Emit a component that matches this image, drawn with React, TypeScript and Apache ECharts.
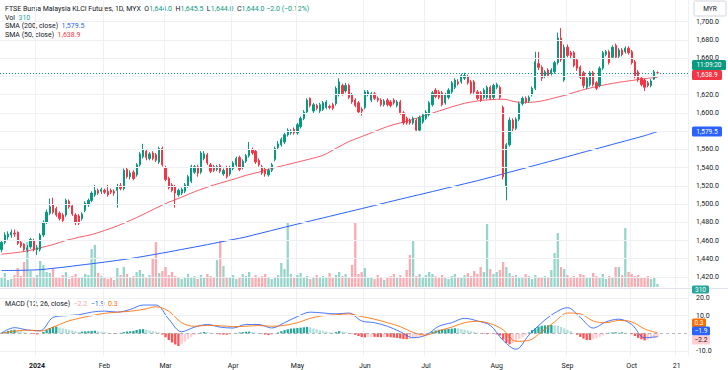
import React, { useEffect, useRef } from 'react';
import * as echarts from 'echarts';

// ---------- calendar ----------
const HOLIDAYS = ['2023-12-25','2024-01-01','2024-01-25','2024-02-01','2024-02-12','2024-04-10','2024-04-11','2024-05-01','2024-05-22','2024-06-17','2024-07-08','2024-09-16'];
const FIRST_DAY = [2023, 11, 14];
const LAST_DAY = [2024, 9, 24];
const MONTHS = ['2024','Feb','Mar','Apr','May','Jun','Jul','Aug','Sep','Oct','Nov','Dec'];

// ---------- price (one entry per bar) ----------
const OPEN = [
1450,1458,1464,1466,1468,1469,1458,1456,1450,1453,
1460,1450,1450,1466,1480,1490,1499,1495,1490,1488,
1488,1503,1498,1488,1487,1484,1493,1499,1504,1510,
1515,1514,1515,1514,1515,1514,1515,1520,1517,1538,
1530,1535,1532,1543,1552,1558,1550,1556,1554,1546,
1561,1540,1528,1521,1519,1510,1512,1514,1520,1525,
1535,1541,1535,1550,1554,1543,1541,1538,1542,1533,
1540,1533,1539,1543,1551,1540,1547,1553,1560,1558,
1548,1541,1538,1532,1537,1549,1562,1565,1568,1576,
1578,1582,1578,1585,1594,1601,1616,1602,1608,1602,
1604,1606,1607,1609,1610,1620,1630,1624,1630,1620,
1614,1611,1604,1606,1620,1614,1621,1616,1614,1609,
1614,1612,1614,1608,1612,1600,1594,1592,1589,1592,
1581,1590,1594,1598,1609,1625,1623,1622,1611,1617,
1623,1628,1634,1634,1638,1640,1634,1634,1623,1622,
1617,1617,1628,1617,1628,1628,1606,1519,1565,1592,
1583,1593,1610,1616,1613,1620,1627,1654,1650,1640,
1647,1643,1645,1655,1682,1636,1672,1666,1666,1658,
1650,1644,1628,1631,1644,1633,1630,1649,1664,1667,
1661,1674,1662,1669,1667,1671,1667,1656,1645,1638,
1636,1633,1630,1637,1644];
const CLOSE = [
1458,1466,1467,1469,1467,1457,1454,1450,1452,1461,
1450,1452,1466,1480,1491,1497,1491,1488,1484,1482,
1504,1497,1489,1480,1479,1489,1501,1504,1512,1515,
1512,1516,1513,1510,1513,1512,1519,1517,1537,1530,
1534,1528,1543,1555,1560,1551,1555,1550,1548,1561,
1543,1527,1518,1515,1512,1515,1516,1521,1530,1541,
1541,1534,1556,1555,1545,1536,1537,1541,1536,1537,
1530,1540,1545,1550,1538,1547,1553,1560,1556,1546,
1543,1534,1533,1537,1543,1561,1566,1571,1576,1581,
1580,1578,1587,1594,1601,1614,1608,1609,1605,1609,
1611,1612,1606,1605,1627,1634,1621,1630,1617,1612,
1608,1601,1602,1623,1623,1621,1616,1614,1609,1613,
1609,1608,1611,1612,1600,1589,1589,1589,1594,1581,
1595,1598,1601,1611,1622,1618,1617,1609,1620,1625,
1633,1636,1632,1641,1641,1633,1622,1623,1616,1614,
1625,1628,1616,1630,1631,1617,1530,1565,1592,1583,
1593,1610,1616,1612,1617,1627,1656,1650,1638,1645,
1641,1647,1655,1682,1658,1672,1663,1663,1652,1649,
1639,1630,1638,1644,1631,1627,1649,1666,1667,1655,
1672,1661,1669,1664,1671,1666,1655,1640,1636,1631,
1628,1630,1635,1645,1644];
const HIGH = [
1460,1469,1470,1472,1472,1470,1460,1457,1455,1463,
1462,1455,1468,1482,1494,1506,1507,1497,1492,1490,
1506,1505,1500,1490,1489,1491,1503,1506,1514,1521,
1517,1518,1517,1521,1517,1516,1522,1523,1539,1540,
1537,1537,1545,1557,1566,1560,1557,1558,1556,1563,
1563,1542,1530,1523,1521,1517,1518,1523,1532,1543,
1543,1543,1558,1558,1556,1545,1543,1543,1544,1539,
1542,1542,1547,1552,1553,1549,1555,1568,1562,1560,
1550,1543,1540,1539,1545,1563,1569,1573,1578,1583,
1582,1584,1589,1596,1603,1616,1617,1611,1610,1611,
1613,1614,1609,1611,1629,1638,1632,1633,1632,1622,
1616,1613,1606,1625,1625,1623,1623,1618,1616,1615,
1616,1614,1616,1614,1614,1602,1596,1594,1596,1594,
1597,1600,1603,1613,1624,1627,1625,1624,1622,1627,
1635,1638,1637,1643,1644,1642,1636,1636,1625,1624,
1627,1630,1630,1632,1633,1630,1608,1567,1595,1594,
1595,1612,1618,1618,1619,1629,1667,1667,1652,1647,
1649,1649,1657,1688,1693,1675,1675,1668,1668,1660,
1652,1646,1640,1646,1646,1635,1651,1668,1669,1669,
1674,1676,1671,1671,1673,1673,1669,1658,1647,1640,
1638,1635,1637,1647,1645.5];
const LOW = [
1447,1456,1461,1463,1464,1455,1452,1448,1447,1451,
1448,1444,1448,1464,1478,1488,1489,1486,1482,1479,
1486,1495,1487,1477,1477,1482,1491,1497,1502,1508,
1510,1511,1511,1508,1511,1509,1496,1515,1515,1528,
1527,1526,1530,1541,1550,1548,1548,1548,1546,1544,
1541,1525,1516,1513,1496,1508,1510,1512,1518,1523,
1533,1530,1533,1548,1543,1534,1535,1536,1534,1531,
1528,1531,1537,1541,1536,1538,1545,1551,1554,1544,
1541,1532,1530,1530,1535,1547,1560,1563,1566,1574,
1576,1576,1576,1583,1592,1599,1606,1600,1603,1600,
1602,1604,1604,1603,1608,1618,1619,1622,1615,1610,
1606,1599,1597,1604,1618,1612,1614,1612,1607,1607,
1607,1606,1609,1606,1598,1587,1587,1587,1587,1579,
1579,1588,1592,1596,1607,1616,1615,1607,1609,1615,
1621,1626,1630,1632,1636,1631,1620,1621,1614,1612,
1615,1615,1614,1615,1626,1615,1527,1504,1563,1580,
1581,1591,1608,1610,1611,1618,1625,1647,1635,1638,
1639,1641,1643,1653,1656,1634,1661,1660,1650,1646,
1637,1627,1626,1629,1629,1625,1628,1647,1662,1653,
1659,1659,1660,1662,1665,1664,1653,1638,1634,1629,
1624,1628,1628,1636,1644];
const VOLUME = [
900,1400,700,800,1200,1900,1100,2500,4500,1600,
900,1200,2600,2200,1500,1400,1800,1000,900,1200,
1500,800,1100,1300,900,1000,1300,1200,3800,4200,
1400,1100,900,800,1000,700,1900,1200,2000,1300,
1000,1100,1500,1700,1300,1000,1200,2900,4500,1400,
1600,2000,1200,1500,1100,900,800,1000,1300,900,
1100,800,1200,1000,1300,1100,900,2700,4700,2100,
1000,900,1200,800,1000,1300,1100,1500,900,1200,
1000,1100,1300,900,800,1000,1200,2400,1800,6500,
1300,1000,1200,1400,900,1100,800,1000,1200,900,
1100,1000,1400,900,1200,1500,1100,1300,1000,2200,
6500,1300,1500,1900,1000,900,800,1200,1000,700,
900,1100,1300,1000,1200,1000,1700,3200,4600,1100,
1300,1000,1200,1500,1300,1100,900,1200,1000,800,
1100,1300,1000,900,1200,1400,1100,1600,1300,2000,
1500,6300,1800,1300,1500,1700,2500,2000,1400,1100,
1200,1000,900,1300,1100,800,1200,1000,900,1100,
1000,1700,3400,5400,2000,1800,1200,1000,1100,900,
1300,1200,1000,900,1400,1100,1000,1300,800,1100,
1000,2000,2000,1200,5900,1500,1300,1100,1200,1000,
900,1100,800,1000,310];

// ---------- indicators (read every 4th bar) ----------
const SMA_STEP = 4;
const SMA200 = [1427,1427.2,1427.5,1428,1429.5,1431,1432.8,1434.5,1436.3,1438.2,1440.2,1442.5,1445,1447.5,1450.2,1452.8,1455.5,1458.3,1461.1,1463.9,1467.5,1471,1474.5,1478,1481.4,1484.8,1488.2,1491.6,1495,1498.4,1501.9,1505.3,1508.7,1512,1515.4,1518.8,1522.2,1525.6,1529.3,1533,1536.8,1540.6,1544.4,1548.2,1552,1555.9,1559.7,1563.5,1567.3,1571.1,1575,1579.5];
const SMA50 = [1445,1446.5,1448.5,1452,1455.5,1460,1463.5,1466.5,1471,1476,1482,1488.5,1495.5,1502,1507.5,1513.5,1518.5,1523,1527,1531.5,1535,1539,1542.5,1546,1549.5,1553.5,1561,1568.5,1574,1579.5,1585,1589,1593,1597.5,1602,1606.5,1610.5,1613,1614.5,1615,1612,1611.5,1613,1616.5,1620,1624.5,1628,1631,1633.5,1635.5,1637.5,1638.9];
const MACD_LINE = [0.2,3.2,1.9,1.5,9,10,10.5,12,12.6,12,13.5,16,16,8,0.9,3.5,5,3.5,3,5,5,3,6,9.5,12,11.5,11,11.5,7,6,4,0.9,-2.5,-1,4,6,8.5,7,4.5,-4,-9,-1,6,11.5,14.5,9,3,6.5,8,5,-2.5,-1.9];
const SIGNAL_LINE = [0,1.2,1.8,1.3,3.5,6.5,8.5,10,11.3,12,12.5,13.5,15,12.5,6,4,4.5,4.3,3.8,4,4.4,4,4.5,6,8.5,10,10.5,11,9.5,8,6,3.8,0.5,-1,1.5,3.5,6,6.8,5.5,2,-4.5,-4,0.9,6.5,11.5,11,7,6,7.3,6.5,2.5,0.3];
const HIST = [
0.3,0.8,1.3,1.7,2.0,1.6,1.2,0.7,0.2,-0.2,
-0.4,-0.6,-0.2,0.8,2.0,3.0,3.7,3.8,3.3,2.8,
2.4,2.0,1.6,1.1,0.8,0.9,1.1,1.2,1.4,1.5,
1.1,0.9,0.6,0.3,-0.1,-0.3,0.1,0.3,0.7,1.0,
1.1,1.4,1.9,2.3,2.4,2.0,1.6,1.2,0.8,0.5,
-0.7,-2.2,-3.8,-5.2,-6.3,-7.2,-6.0,-4.6,-3.3,-2.0,
-1.0,-0.5,0.4,0.8,0.7,0.3,-0.1,-0.3,-0.6,-0.7,
-0.8,-0.5,-0.2,0.2,0.5,0.7,0.9,1.0,0.8,0.5,
0.2,-0.3,-0.7,-1.0,-0.9,-0.4,0.5,1.2,1.8,2.3,
2.7,2.8,3.0,3.2,3.4,3.6,3.3,2.7,2.2,1.8,
1.4,1.0,0.6,0.4,0.7,1.2,1.1,0.7,0.3,-0.3,
-0.9,-1.5,-2.1,-2.3,-2.1,-2.0,-2.0,-2.1,-2.2,-2.0,
-2.0,-2.2,-2.4,-2.6,-2.9,-3.2,-3.3,-3.1,-2.8,-2.5,
-1.8,-1.2,-0.4,0.3,1.0,1.6,2.0,2.2,2.3,2.5,
2.7,2.9,2.7,2.4,2.1,1.7,1.2,0.8,0.4,0.1,
-0.3,-0.5,-0.4,-0.3,-0.6,-1.2,-3.5,-5.5,-6.2,-5.5,
-4.5,-3.3,-2.2,-1.0,0.5,1.8,2.8,3.8,4.3,4.5,
4.6,4.7,4.5,4.3,3.6,2.8,2.0,1.2,0.3,-0.8,
-2.0,-3.0,-3.8,-3.8,-3.3,-2.8,-2.0,-1.2,-0.5,0.3,
0.5,0.6,0.5,0.6,0.4,0.2,-0.5,-1.5,-2.6,-3.4,
-4.0,-3.6,-3.0,-2.6,-2.2];

// ---------- axis ticks ----------
const PRICE_GRID = [1420,1440,1460,1480,1500,1520,1540,1560,1580,1600,1620,1640,1660,1680,1700];
const PRICE_LABELS = [1420,1440,1460,1480,1500,1520,1540,1560,1600,1620,1660,1680,1700];
const MACD_TICKS = [20, 10, -10];
const LAST_PRICE = 1644.0;

const FONT = 'Roboto, "Noto Sans", Arial, sans-serif';
const UP = '#089981';
const DOWN = '#f23645';

function tradingDays(): string[] {
  const out: string[] = [];
  const d = new Date(Date.UTC(FIRST_DAY[0], FIRST_DAY[1], FIRST_DAY[2]));
  const end = Date.UTC(LAST_DAY[0], LAST_DAY[1], LAST_DAY[2]);
  while (d.getTime() <= end) {
    const wd = d.getUTCDay();
    const s = d.toISOString().slice(0, 10);
    if (wd !== 0 && wd !== 6 && !HOLIDAYS.includes(s)) out.push(s);
    d.setUTCDate(d.getUTCDate() + 1);
  }
  return out;
}

function fmt(v: number) {
  return v.toLocaleString('en-US', { minimumFractionDigits: 1, maximumFractionDigits: 1 });
}

function tag(x: number, yc: number, w: number, h: number, text: string, bg: string, fg: string, stroke?: string) {
  return {
    type: 'group',
    children: [
      { type: 'rect', shape: { x, y: yc - h / 2, width: w, height: h, r: 1.5 }, style: { fill: bg, stroke: stroke || 'none', lineWidth: 1 } },
      { type: 'text', style: { x: x + w / 2, y: yc, text, fill: fg, fontSize: 6.5, fontFamily: FONT, align: 'center', verticalAlign: 'middle', textAlign: 'center', textVerticalAlign: 'middle' } },
    ],
  };
}

function richLine(x: number, y: number, text: string, rich: any) {
  return {
    type: 'text',
    style: { x, y, text, rich, fontSize: 7, fontFamily: FONT, verticalAlign: 'middle', textVerticalAlign: 'middle' },
  };
}

function buildOption() {
  const cats = tradingDays();
  const labelFor = (i: number): string | null => {
    const d = cats[i];
    if (!d) return null;
    if (d === '2024-10-21') return '21';
    if (i > 0 && d.slice(0, 7) !== cats[i - 1].slice(0, 7)) {
      const m = +d.slice(5, 7);
      return m === 1 ? '{b|2024}' : MONTHS[m - 1];
    }
    return null;
  };
  const isGrid = (i: number) => labelFor(i) !== null;

  const candles = OPEN.map((o, i) => [o, CLOSE[i], LOW[i], HIGH[i]]);
  const vols = VOLUME.map((v, i) => ({
    value: v,
    itemStyle: { color: CLOSE[i] >= OPEN[i] ? 'rgba(8,153,129,0.42)' : 'rgba(242,54,69,0.42)' },
  }));
  const hist = HIST.map((h, i) => {
    const p = i > 0 ? HIST[i - 1] : 0;
    const c = h >= 0 ? (h > p ? '#26a69a' : '#b2dfdb') : (h > p ? '#ffcdd2' : '#ff5252');
    return { value: h, itemStyle: { color: c } };
  });
  const sparse = (arr: number[]) => arr.map((v, k) => [Math.min(k * SMA_STEP, OPEN.length - 1), v]);

  const gridLineStyle = { color: '#eef0f4', width: 1, type: 'solid' as const };

  const xBase = {
    type: 'category' as const,
    data: cats,
    boundaryGap: true,
    axisLine: { show: false },
    axisTick: { show: false },
    splitLine: { show: true, interval: (i: number) => isGrid(i), lineStyle: { color: '#eef0f4' } },
  };

  return {
    animation: false,
    backgroundColor: '#ffffff',
    textStyle: { fontFamily: FONT },
    grid: [
      { left: 0, width: 688, top: 0, height: 287 },
      { left: 0, width: 688, top: 200, height: 87 },
      { left: 0, width: 688, top: 289, height: 67 },
    ],
    xAxis: [
      { ...xBase, gridIndex: 0, axisLabel: { show: false } },
      { ...xBase, gridIndex: 1, axisLabel: { show: false }, splitLine: { show: false } },
      {
        ...xBase,
        gridIndex: 2,
        axisLabel: {
          show: true,
          interval: (i: number) => isGrid(i),
          formatter: (_v: string, i: number) => labelFor(i) || '',
          fontSize: 7,
          color: '#131722',
          margin: 6,
          fontFamily: FONT,
          rich: { b: { fontWeight: 'bold', fontSize: 7, color: '#131722', fontFamily: FONT } },
        },
      },
    ],
    yAxis: [
      {
        type: 'value', gridIndex: 0, position: 'right', min: 1409.0, max: 1723.8, scale: true,
        splitLine: { show: false }, axisLine: { show: false }, axisTick: { show: false },
        axisLabel: { customValues: PRICE_LABELS, formatter: (v: number) => fmt(v), fontSize: 7, color: '#131722', margin: 8, fontFamily: FONT },
      },
      {
        type: 'value', gridIndex: 1, min: 0, max: 8700, show: false,
        splitLine: { show: false },
      },
      {
        type: 'value', gridIndex: 2, position: 'right', min: -12.83, max: 25.09,
        splitLine: { show: false }, axisLine: { show: false }, axisTick: { show: false },
        axisLabel: { customValues: MACD_TICKS, formatter: (v: number) => fmt(v), fontSize: 7, color: '#131722', margin: 8, fontFamily: FONT },
      },
    ],
    series: [
      {
        type: 'line', xAxisIndex: 0, yAxisIndex: 0, data: [], z: 0, silent: true,
        markLine: {
          silent: true, symbol: ['none', 'none'], label: { show: false }, animation: false,
          lineStyle: gridLineStyle,
          data: PRICE_GRID.map((v) => ({ yAxis: v })),
        },
      },
      {
        type: 'line', xAxisIndex: 2, yAxisIndex: 2, data: [], z: 0, silent: true,
        markLine: {
          silent: true, symbol: ['none', 'none'], label: { show: false }, animation: false,
          lineStyle: gridLineStyle,
          data: MACD_TICKS.map((v) => ({ yAxis: v })),
        },
      },
      {
        name: 'Vol', type: 'bar', xAxisIndex: 1, yAxisIndex: 1, data: vols, barWidth: '72%', z: 1, silent: true,
      },
      {
        name: 'SMA200', type: 'line', xAxisIndex: 0, yAxisIndex: 0, data: sparse(SMA200), smooth: 0.3,
        showSymbol: false, lineStyle: { color: '#2962ff', width: 1 }, z: 2, silent: true,
      },
      {
        name: 'SMA50', type: 'line', xAxisIndex: 0, yAxisIndex: 0, data: sparse(SMA50), smooth: 0.3,
        showSymbol: false, lineStyle: { color: '#f23645', width: 1, opacity: 0.8 }, z: 2, silent: true,
      },
      {
        name: 'Price', type: 'candlestick', xAxisIndex: 0, yAxisIndex: 0, data: candles, z: 3, silent: true,
        barWidth: '55%',
        itemStyle: { color: UP, color0: DOWN, borderColor: UP, borderColor0: DOWN, borderWidth: 1 },
        markLine: {
          silent: true, symbol: ['none', 'none'], label: { show: false }, animation: false,
          lineStyle: { color: UP, width: 1, type: [1, 2] },
          data: [{ yAxis: LAST_PRICE }],
        },
      },
      {
        name: 'Histogram', type: 'bar', xAxisIndex: 2, yAxisIndex: 2, data: hist, barWidth: '72%', z: 1, silent: true,
        markLine: {
          silent: true, symbol: ['none', 'none'], label: { show: false }, animation: false,
          lineStyle: { color: '#9598a1', width: 1, type: [3, 3], opacity: 0.7 },
          data: [{ yAxis: 0 }],
        },
      },
      {
        name: 'MACD', type: 'line', xAxisIndex: 2, yAxisIndex: 2, data: sparse(MACD_LINE), smooth: 0.35,
        showSymbol: false, lineStyle: { color: '#2962ff', width: 1, opacity: 0.85 }, z: 2, silent: true,
      },
      {
        name: 'Signal', type: 'line', xAxisIndex: 2, yAxisIndex: 2, data: sparse(SIGNAL_LINE), smooth: 0.35,
        showSymbol: false, lineStyle: { color: '#ff6d00', width: 1, opacity: 0.85 }, z: 2, silent: true,
      },
    ],
    graphic: [
      { type: 'line', shape: { x1: 0, y1: 288.5, x2: 728, y2: 288.5 }, style: { stroke: '#e0e3eb', lineWidth: 1 }, silent: true },
      richLine(5, 9, '{d|FTSE Bursa Malaysia KLCI Futures, 1D, MYX}  {d|O}{g|1,644.0}  {d|H}{g|1,645.5}  {d|L}{g|1,644.0}  {d|C}{g|1,644.0 −2.0 (−0.12%)}', {
        d: { fill: '#131722', fontSize: 7, fontFamily: FONT },
        g: { fill: UP, fontSize: 7, fontFamily: FONT },
      }),
      richLine(5, 17.5, '{d|Vol}  {g|310}', {
        d: { fill: '#131722', fontSize: 7, fontFamily: FONT },
        g: { fill: '#26a69a', fontSize: 7, fontFamily: FONT },
      }),
      richLine(5, 26, '{d|SMA (200, close)}  {b|1,579.5}', {
        d: { fill: '#131722', fontSize: 7, fontFamily: FONT },
        b: { fill: '#2962ff', fontSize: 7, fontFamily: FONT },
      }),
      richLine(5, 34.5, '{d|SMA (50, close)}  {r|1,638.9}', {
        d: { fill: '#131722', fontSize: 7, fontFamily: FONT },
        r: { fill: DOWN, fontSize: 7, fontFamily: FONT },
      }),
      richLine(5, 304, '{d|MACD (12, 26, close)}  {p|−2.2}  {b|−1.9}  {o|0.3}', {
        d: { fill: '#131722', fontSize: 7, fontFamily: FONT },
        p: { fill: '#f7a5ab', fontSize: 7, fontFamily: FONT },
        b: { fill: '#2962ff', fontSize: 7, fontFamily: FONT },
        o: { fill: '#ff6d00', fontSize: 7, fontFamily: FONT },
      }),
      tag(694, 8.5, 32, 15, 'MYR', '#ffffff', '#131722', '#d1d4dc'),
      tag(692, 65, 34, 10, '11:09:20', UP, '#ffffff'),
      tag(692, 75, 30, 10, '1,638.9', DOWN, '#ffffff'),
      tag(692, 131.5, 30, 10, '1,579.5', '#2962ff', '#ffffff'),
      tag(692, 289.5, 17, 8, '310', '#26a69a', '#ffffff'),
      tag(692, 323, 14, 9, '0.3', '#ff6d00', '#ffffff'),
      tag(692, 331, 18, 9, '−1.9', '#2962ff', '#ffffff'),
      tag(692, 340, 18, 9, '−2.2', '#ffcdd2', '#131722'),
    ],
  };
}

export default function App() {
  const ref = useRef<HTMLDivElement>(null);
  useEffect(() => {
    document.body.style.margin = '0';
    const chart = echarts.init(ref.current as HTMLDivElement, null, { renderer: 'svg' });
    chart.setOption(buildOption() as any);
    return () => chart.dispose();
  }, []);
  return <div ref={ref} style={{ position: 'absolute', left: 0, top: 0, width: 728, height: 370, background: '#fff' }} />;
}
